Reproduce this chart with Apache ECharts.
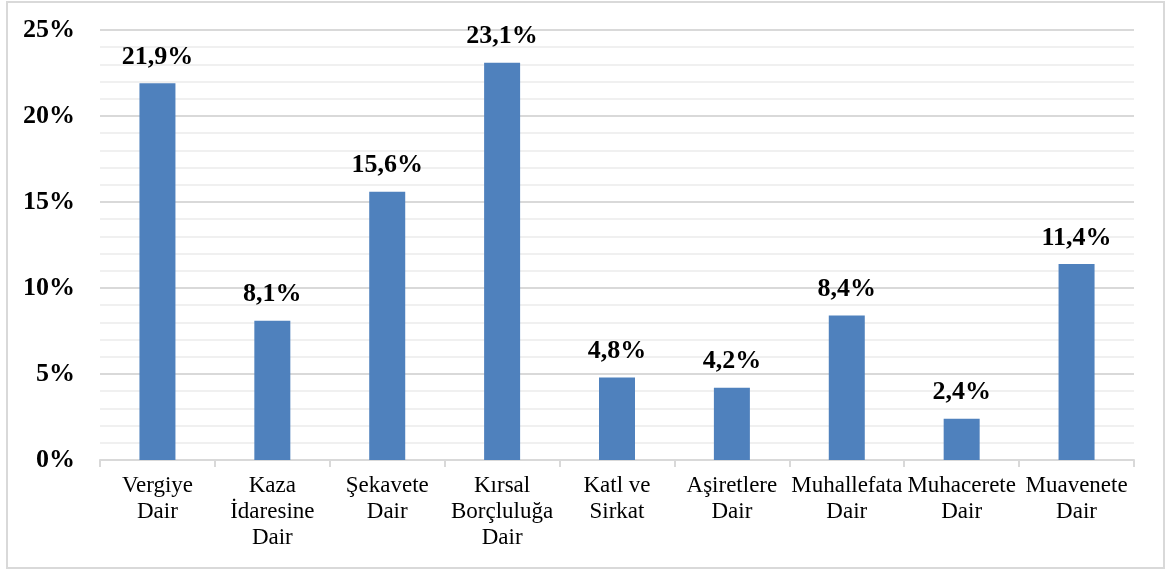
<!DOCTYPE html>
<html>
<head>
<meta charset="utf-8">
<script src="https://cdn.jsdelivr.net/npm/echarts@6/dist/echarts.min.js"></script>
<style>
html,body{margin:0;padding:0;background:#fff;}
#frame{position:absolute;left:6px;top:1px;width:1155px;height:564px;border:2px solid #d9d9d9;box-sizing:content-box;}
#c{position:absolute;left:0;top:0;width:1165px;height:569px;}
</style>
</head>
<body>
<div id="frame"></div>
<div id="c"></div>
<script>
const categories = ["Vergiye\nDair", "Kaza\nİdaresine\nDair", "Şekavete\nDair", "Kırsal\nBorçluluğa\nDair", "Katl ve\nSirkat", "Aşiretlere\nDair", "Muhallefata\nDair", "Muhacerete\nDair", "Muavenete\nDair"];
const values = [21.9, 8.1, 15.6, 23.1, 4.8, 4.2, 8.4, 2.4, 11.4];
const yTicks = [0, 5, 10, 15, 20, 25];

const FONT = "'Liberation Serif', 'Times New Roman', serif";
const chart = echarts.init(document.getElementById('c'));
chart.setOption({
  animation: false,
  grid: {left: 100, right: 31, top: 30, bottom: 109, containLabel: false},
  xAxis: {
    type: 'category',
    data: categories,
    axisLine: {lineStyle: {color: '#d9d9d9', width: 2}},
    axisTick: {show: true, length: 7, lineStyle: {color: '#d9d9d9', width: 2}},
    axisLabel: {color: '#000', fontFamily: FONT, fontSize: 23, lineHeight: 26, margin: 13, interval: 0}
  },
  yAxis: {
    type: 'value',
    min: 0, max: 25, interval: 5,
    axisLine: {show: false},
    axisTick: {show: false},
    axisLabel: {color: '#000', fontFamily: FONT, fontWeight: 'bold', fontSize: 26, margin: 25,
      formatter: v => yTicks.includes(v) ? v + '%' : ''},
    splitLine: {lineStyle: {color: '#d9d9d9', width: 2}},
    minorTick: {show: false, splitNumber: 5},
    minorSplitLine: {show: true, lineStyle: {color: '#f0f0f0', width: 2}}
  },
  series: [{
    type: 'bar',
    data: values,
    barWidth: 36,
    itemStyle: {color: '#4f81bd'},
    label: {
      show: true, position: 'top', distance: 13,
      color: '#000', fontFamily: FONT, fontWeight: 'bold', fontSize: 26,
      formatter: p => String(p.value).replace('.', ',') + '%'
    }
  }]
});
</script>
</body>
</html>
